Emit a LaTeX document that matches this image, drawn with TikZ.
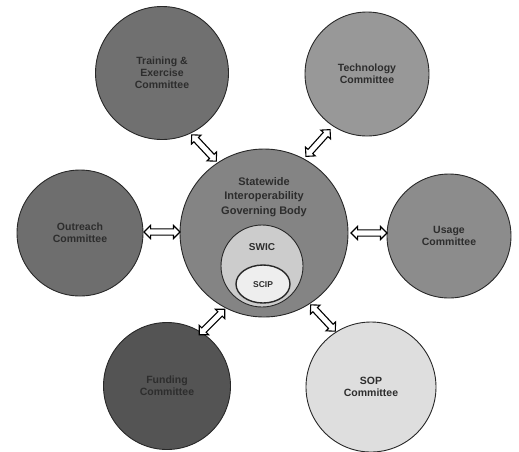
\documentclass[tikz,border=0pt]{standalone}
\usepackage{fontspec}
\setmainfont{Liberation Sans}
\usetikzlibrary{shapes.arrows,shapes.geometric}
\definecolor{cTL}{RGB}{112,112,112}
\definecolor{cTR}{RGB}{152,152,152}
\definecolor{cL}{RGB}{110,110,110}
\definecolor{cR}{RGB}{140,140,140}
\definecolor{cBL}{RGB}{84,84,84}
\definecolor{cBR}{RGB}{222,222,222}
\definecolor{cC}{RGB}{132,132,132}
\definecolor{cSW}{RGB}{204,204,204}
\definecolor{cSC}{RGB}{238,238,238}
\definecolor{txt}{RGB}{45,45,45}
\definecolor{edge}{RGB}{40,40,40}
\tikzset{
  comm/.style={circle, draw=edge, line width=0.9pt, inner sep=0pt, align=center,
    font=\fontsize{10.5}{12}\selectfont\bfseries, text=txt},
  dblarrow/.style={double arrow, draw=black, line width=1.1pt, fill=white, inner sep=2.6pt,
    minimum height=36pt, double arrow head extend=3.4pt,
    double arrow head indent=0pt}
}
\begin{document}
\begin{tikzpicture}[x=1pt,y=-1pt]
\useasboundingbox[fill=white] (0,0) rectangle (519,451);
% outer committees
\node[comm, fill=cTL, minimum size=133pt] (tl) at (162,73) {Training \&\\Exercise\\Committee};
\node[comm, fill=cTR, minimum size=124pt] (tr) at (367,74) {Technology\\Committee};
\node[comm, fill=cL, minimum size=126pt] (lt) at (80,233) {Outreach\\Committee};
\node[comm, fill=cR, minimum size=124pt] (rt) at (449,236) {Usage\\Committee};
\node[comm, fill=cBL, minimum size=127pt] (bl) at (167,386) {Funding\\Committee};
\node[comm, fill=cBR, minimum size=130pt] (br) at (371,387) {SOP\\Committee};
% central body
\node[circle, draw=edge, line width=0.9pt, fill=cC, minimum size=168pt, inner sep=0pt] (gb) at (264,233) {};
\node[align=center, font=\fontsize{11}{14.5}\selectfont\bfseries, text=txt] (gbt) at (264,197) {Statewide\\Interoperability\\Governing Body};
\node[circle, draw=edge, line width=0.9pt, fill=cSW, minimum size=82pt, inner sep=0pt] (swic) at (262,266) {};
\node[font=\fontsize{10}{11}\selectfont\bfseries, text=txt] (swict) at (262,247) {SWIC};
\node[ellipse, draw=edge, line width=1.4pt, fill=cSC, minimum width=54pt, minimum height=38pt, inner sep=0pt] (scip) at (263,284) {};
\node[font=\fontsize{8.5}{10}\selectfont\bfseries, text=txt] (scipt) at (263,285) {SCIP};
% connectors
\node[dblarrow, rotate=-47] (a1) at (204,148) {};
\node[dblarrow, rotate=48] (a2) at (318,143) {};
\node[dblarrow] (a3) at (162,232) {};
\node[dblarrow] (a4) at (369,233) {};
\node[dblarrow, rotate=45] (a5) at (212,322) {};
\node[dblarrow, rotate=-47] (a6) at (323,318) {};
\end{tikzpicture}
\end{document}
